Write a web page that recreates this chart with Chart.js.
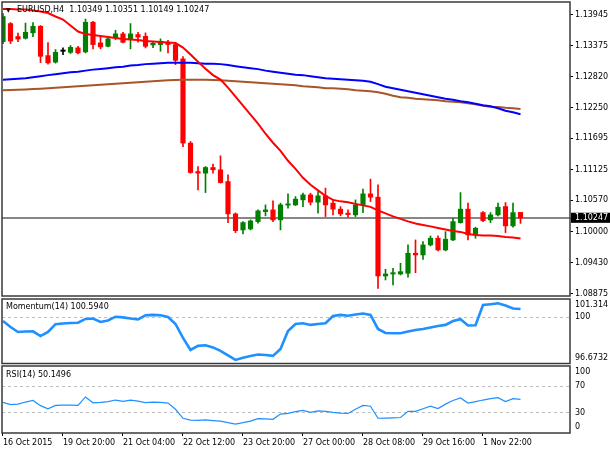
<!DOCTYPE html>
<html>
<head>
<meta charset="utf-8">
<script src="https://cdn.jsdelivr.net/npm/chart.js@4.4.1/dist/chart.umd.min.js"></script>
<style>
html,body{margin:0;padding:0;background:#fff;}
body{width:610px;height:450px;position:relative;overflow:hidden;}
.pane{position:absolute;left:0;width:610px;}
.lbl{position:absolute;font-family:'DejaVu Sans',sans-serif;font-size:8px;line-height:10px;color:#000;white-space:pre;z-index:5;}
</style>
</head>
<body>
<div class="pane" style="top:0;height:297px"><canvas id="cMain"></canvas></div>
<div class="pane" style="top:297px;height:68px"><canvas id="cMom"></canvas></div>
<div class="pane" style="top:364px;height:86px"><canvas id="cRsi"></canvas></div>
<div class="lbl" id="tri" style="left:6px;top:5px;font-size:6px;">▼</div>
<div class="lbl" id="tMain" style="left:17px;top:5px;"></div>
<div class="lbl" id="tMom" style="left:6px;top:301.5px;"></div>
<div class="lbl" id="tRsi" style="left:6px;top:370px;"></div>
<script>
// ---------------- data ----------------
const symbol = 'EURUSD,H4';
const open = [1.13453,1.13781,1.13545,1.13514,1.13612,1.13732,1.13199,1.13080,1.13277,1.13259,
1.13339,1.13266,1.13805,1.13430,1.13368,1.13521,1.13594,1.13490,1.13581,1.13550,
1.13393,1.13399,1.13441,1.13399,1.13139,1.11609,1.11092,1.11063,1.11165,1.11123,
1.10910,1.10322,1.10031,1.10049,1.10182,1.10364,1.10395,1.10213,1.10481,1.10486,
1.10577,1.10668,1.10535,1.10650,1.10517,1.10408,1.10335,1.10304,1.10486,1.10686,
1.10626,1.09194,1.09230,1.09230,1.09243,1.09607,1.09576,1.09758,1.09880,1.09667,
1.09849,1.10164,1.10408,1.09940,1.10346,1.10213,1.10304,1.10455,1.10104,1.10349];
const high = [1.13963,1.13799,1.13608,1.13790,1.13799,1.13745,1.13435,1.13308,1.13339,1.13381,
1.13368,1.13863,1.13823,1.13539,1.13539,1.13659,1.13623,1.13781,1.13623,1.13612,
1.13459,1.13503,1.13477,1.13417,1.13180,1.11638,1.11183,1.11183,1.11227,1.11378,
1.11032,1.10340,1.10182,1.10213,1.10395,1.10486,1.10559,1.10517,1.10686,1.10637,
1.10699,1.10699,1.10728,1.10790,1.10577,1.10455,1.10395,1.10577,1.10772,1.10954,
1.10850,1.09316,1.09334,1.09425,1.09758,1.09849,1.09818,1.09922,1.09922,1.10000,
1.10244,1.10710,1.10517,1.10080,1.10364,1.10346,1.10517,1.10528,1.10517,1.10351];
const low = [1.13417,1.13417,1.13453,1.13499,1.13545,1.13071,1.13044,1.13062,1.13217,1.13235,
1.13230,1.13248,1.13321,1.13321,1.13357,1.13490,1.13430,1.13321,1.13441,1.13339,
1.13344,1.13277,1.13248,1.13035,1.11542,1.11060,1.10759,1.10710,1.11063,1.10881,
1.10164,1.09982,1.09958,1.10031,1.10153,1.10286,1.10182,1.10031,1.10426,1.10473,
1.10455,1.10486,1.10335,1.10273,1.10304,1.10286,1.10262,1.10273,1.10346,1.10546,
1.08970,1.09121,1.09030,1.09212,1.09170,1.09254,1.09497,1.09740,1.09649,1.09649,
1.09836,1.10153,1.09849,1.09880,1.10182,1.10164,1.10286,1.09982,1.10080,1.10149];
const close = [1.13909,1.13463,1.13499,1.13623,1.13732,1.13186,1.13066,1.13259,1.13277,1.13350,
1.13248,1.13805,1.13399,1.13357,1.13503,1.13594,1.13441,1.13594,1.13535,1.13368,
1.13423,1.13459,1.13399,1.13113,1.11609,1.11074,1.11063,1.11165,1.11123,1.10892,
1.10322,1.10018,1.10164,1.10195,1.10377,1.10395,1.10213,1.10486,1.10504,1.10590,
1.10668,1.10535,1.10650,1.10486,1.10408,1.10322,1.10310,1.10486,1.10686,1.10626,
1.09194,1.09230,1.09254,1.09272,1.09607,1.09576,1.09758,1.09880,1.09667,1.09862,
1.10182,1.10408,1.09940,1.10062,1.10200,1.10304,1.10444,1.10104,1.10346,1.10247];
const maRed = [1.14045,1.14045,1.14036,1.14036,1.14018,1.14000,1.13972,1.13909,1.13854,1.13745,
1.13636,1.13590,1.13572,1.13554,1.13535,1.13517,1.13499,1.13490,1.13481,1.13463,
1.13453,1.13444,1.13435,1.13426,1.13344,1.13217,1.13089,1.12962,1.12844,1.12762,
1.12616,1.12452,1.12288,1.12125,1.11961,1.11779,1.11615,1.11469,1.11287,1.11141,
1.10978,1.10850,1.10750,1.10650,1.10577,1.10550,1.10532,1.10504,1.10477,1.10450,
1.10386,1.10331,1.10276,1.10231,1.10186,1.10149,1.10122,1.10095,1.10067,1.10040,
1.10013,1.09995,1.09958,1.09940,1.09931,1.09931,1.09922,1.09904,1.09894,1.09876];
const maBlue = [1.12762,1.12771,1.12780,1.12789,1.12807,1.12825,1.12844,1.12862,1.12880,1.12898,
1.12907,1.12926,1.12944,1.12956,1.12971,1.12989,1.12998,1.13017,1.13026,1.13044,
1.13053,1.13062,1.13071,1.13071,1.13071,1.13071,1.13062,1.13053,1.13053,1.13044,
1.13026,1.13007,1.12989,1.12971,1.12953,1.12926,1.12907,1.12889,1.12871,1.12853,
1.12844,1.12825,1.12807,1.12789,1.12780,1.12771,1.12762,1.12753,1.12743,1.12725,
1.12680,1.12634,1.12607,1.12580,1.12552,1.12525,1.12498,1.12470,1.12443,1.12416,
1.12398,1.12370,1.12352,1.12325,1.12297,1.12279,1.12243,1.12197,1.12170,1.12134];
const maBrown = [1.12571,1.12574,1.12580,1.12585,1.12592,1.12598,1.12607,1.12616,1.12625,1.12634,
1.12643,1.12652,1.12662,1.12671,1.12680,1.12689,1.12698,1.12707,1.12716,1.12725,
1.12734,1.12743,1.12753,1.12756,1.12762,1.12762,1.12762,1.12762,1.12756,1.12753,
1.12743,1.12734,1.12725,1.12716,1.12707,1.12698,1.12689,1.12680,1.12671,1.12662,
1.12643,1.12634,1.12625,1.12607,1.12607,1.12598,1.12589,1.12571,1.12561,1.12552,
1.12534,1.12507,1.12470,1.12443,1.12434,1.12416,1.12407,1.12398,1.12389,1.12370,
1.12361,1.12352,1.12334,1.12316,1.12288,1.12270,1.12265,1.12252,1.12243,1.12228];
const momentum = [99.73,99.30,98.94,98.98,98.99,98.65,98.94,99.50,99.55,99.59,
99.61,99.88,99.91,99.66,99.77,100.04,99.99,99.91,99.84,100.14,
100.17,100.14,100.02,99.52,98.51,97.65,97.94,97.99,97.83,97.58,
97.25,96.93,97.09,97.22,97.32,97.29,97.22,97.72,99.01,99.52,
99.57,99.45,99.52,99.57,100.09,100.17,100.11,100.20,100.27,100.17,
99.16,98.87,98.85,98.85,98.98,99.09,99.16,99.27,99.37,99.45,
99.73,99.86,99.41,99.42,100.88,100.94,101.01,100.85,100.63,100.594];
const rsi = [45.7,42.3,43.1,46.2,48.5,40.8,36.2,41.1,41.5,41.5,
41.1,53.8,45.1,45.7,46.9,49.2,47.2,49.2,47.7,45.4,
46.2,45.7,44.6,35.4,22.0,19.2,18.9,19.5,18.5,17.7,
15.4,13.4,15.4,17.7,21.5,21.1,20.5,28.2,29.2,31.8,
33.8,30.8,33.1,32.3,30.8,29.7,29.2,35.4,41.1,40.0,
22.0,22.3,22.6,23.1,32.3,32.3,36.2,40.0,36.5,43.1,
48.5,52.3,44.6,46.9,49.2,51.2,52.8,46.9,51.2,50.1496];
const xLabels = ['16 Oct 2015','19 Oct 20:00','21 Oct 04:00','22 Oct 12:00','23 Oct 20:00','27 Oct 00:00','28 Oct 08:00','29 Oct 16:00','1 Nov 22:00'];
const xLabelBars = [0,8,16,24,32,40,48,56,64];
const priceTicks = [1.13945,1.13375,1.12820,1.12250,1.11695,1.11125,1.10570,1.10247,1.10000,1.09430,1.08875];
const momTicks = [96.6732,100,101.314];
const momTickLabels = ['96.6732','100','101.314'];
const rsiTicks = [0,30,70,100];
const rsiLevels = [30,70];
const momLevel = 100;

// ---------------- view settings ----------------
const FONT = "'DejaVu Sans', sans-serif";
const RED = '#ff0000', GREEN = '#008000';
const XMIN = -0.133, XMAX = 75.6;
const PRICE_MIN = 1.08830, PRICE_MAX = 1.14173;
const MOM_MIN = 96.6732, MOM_MAX = 101.314;
const AXIS_W = 40;

Chart.defaults.font.family = FONT;
Chart.defaults.font.size = 8;
Chart.defaults.color = '#000';
Chart.defaults.animation = false;

const N = open.length;
const idx = Array.from({length: N}, (_, i) => i);
const bid = close[N - 1];
const candleColor = idx.map(i => close[i] > open[i] ? GREEN : (close[i] < open[i] ? RED : '#000'));
const pts = arr => idx.map(i => ({x: i, y: arr[i]}));

document.getElementById('tMain').textContent =
  symbol + '  ' + [open[N-1], high[N-1], low[N-1], close[N-1]].map(v => v.toFixed(5)).join(' ');
document.getElementById('tMom').textContent = 'Momentum(14) ' + momentum[N-1].toFixed(4);
document.getElementById('tRsi').textContent = 'RSI(14) ' + rsi[N-1].toFixed(4);

const framePlugin = {
  id: 'frame',
  afterDraw(c) {
    const a = c.chartArea, ctx = c.ctx;
    ctx.save();
    ctx.strokeStyle = '#3a3a3a';
    ctx.lineWidth = 1.5;
    ctx.strokeRect(a.left, a.top, a.right - a.left, a.bottom - a.top);
    ctx.restore();
  }
};

// fixed-size axes with no automatic label padding
const fitY = s => { s.width = AXIS_W; s.paddingTop = 0; s.paddingBottom = 0; s.paddingLeft = 0; s.paddingRight = 0; };
const fitX = s => { s.height = 17; s.paddingLeft = 0; s.paddingRight = 0; s.paddingTop = 0; s.paddingBottom = 0; };

function hiddenX() {
  return { type: 'linear', min: XMIN, max: XMAX, bounds: 'data', offset: false, display: false, grid: { offset: false } };
}
function edgeLabel(text, v, lo, hi) {
  if (v === hi) return ['', text];
  if (v === lo) return [text, ''];
  return text;
}
const commonOpts = {
  responsive: true,
  maintainAspectRatio: false,
  animation: false,
  events: [],
  plugins: { legend: { display: false }, tooltip: { enabled: false }, title: { display: false } }
};

// ---------------- main price pane ----------------
new Chart(document.getElementById('cMain'), {
  type: 'line',
  data: {
    datasets: [
      { type: 'line', data: pts(maRed), borderColor: RED, borderWidth: 2, pointRadius: 0, tension: 0, order: 0 },
      { type: 'line', data: pts(maBlue), borderColor: '#0000ff', borderWidth: 2, pointRadius: 0, tension: 0, order: 0 },
      { type: 'line', data: pts(maBrown), borderColor: '#a8552a', borderWidth: 2, pointRadius: 0, tension: 0, order: 0 },
      { type: 'bar', data: idx.map(i => ({x: i, y: [open[i], close[i]]})), backgroundColor: candleColor,
        barThickness: 4.5, minBarLength: 1.3, grouped: false, borderWidth: 0, order: 1 },
      { type: 'bar', data: idx.map(i => ({x: i, y: [low[i], high[i]]})), backgroundColor: candleColor,
        barThickness: 1, grouped: false, borderWidth: 0, order: 2 },
      { type: 'line', data: [{x: XMIN, y: bid}, {x: XMAX, y: bid}], borderColor: '#5f5f5f', borderWidth: 1.6,
        pointRadius: 0, order: 3 }
    ]
  },
  options: Object.assign({}, commonOpts, {
    layout: { autoPadding: false, padding: { left: 2, right: 0, top: 2, bottom: 1 } },
    scales: {
      x: hiddenX(),
      y: {
        type: 'linear', position: 'right', min: PRICE_MIN, max: PRICE_MAX, bounds: 'data',
        afterFit: fitY,
        afterBuildTicks: s => { s.ticks = priceTicks.map(v => ({value: v})); },
        ticks: {
          autoSkip: false, padding: 2, font: { size: 8 },
          callback: v => v.toFixed(5),
          color: c => (c.tick && c.tick.value === bid) ? '#fff' : '#000',
          showLabelBackdrop: true,
          backdropColor: c => (c.tick && c.tick.value === bid) ? '#000' : 'rgba(0,0,0,0)',
          backdropPadding: { left: 4, right: 4, top: 0.5, bottom: 0 }
        },
        grid: { drawOnChartArea: false, drawTicks: true, tickLength: 3, color: '#000' },
        border: { display: false }
      }
    }
  }),
  plugins: [framePlugin]
});

// ---------------- momentum pane ----------------
new Chart(document.getElementById('cMom'), {
  type: 'line',
  data: { datasets: [
    { data: pts(momentum), borderColor: '#1e90ff', borderWidth: 2.6, pointRadius: 0, tension: 0 }
  ] },
  options: Object.assign({}, commonOpts, {
    layout: { autoPadding: false, padding: { left: 2, right: 0, top: 2, bottom: 1.5 } },
    scales: {
      x: hiddenX(),
      y: {
        type: 'linear', position: 'right', min: MOM_MIN, max: MOM_MAX, bounds: 'data',
        afterFit: fitY,
        afterBuildTicks: s => { s.ticks = momTicks.map(v => ({value: v})); },
        ticks: {
          autoSkip: false, padding: 5, font: { size: 8, lineHeight: 1.4 },
          callback: (v, i) => edgeLabel(momTickLabels[i], v, MOM_MIN, MOM_MAX)
        },
        grid: {
          drawTicks: false, drawOnChartArea: true, lineWidth: 1,
          color: c => (c.tick && c.tick.value === momLevel) ? '#bdbdbd' : 'rgba(0,0,0,0)'
        },
        border: { display: false, dash: [3, 3] }
      }
    }
  }),
  plugins: [framePlugin]
});

// ---------------- RSI pane ----------------
new Chart(document.getElementById('cRsi'), {
  type: 'line',
  data: { datasets: [
    { data: pts(rsi), borderColor: '#1e90ff', borderWidth: 1.2, pointRadius: 0, tension: 0 }
  ] },
  options: Object.assign({}, commonOpts, {
    layout: { autoPadding: false, padding: { left: 2, right: 0, top: 2, bottom: 0 } },
    scales: {
      x: {
        type: 'linear', min: XMIN, max: XMAX, bounds: 'data', offset: false,
        afterFit: fitX,
        afterBuildTicks: s => { s.ticks = xLabelBars.map(v => ({value: v})); },
        ticks: { autoSkip: false, maxRotation: 0, minRotation: 0, align: 'start', padding: 2,
                 font: { size: 8 }, callback: (v, i) => xLabels[i] },
        grid: { offset: false, drawOnChartArea: false, drawTicks: true, tickLength: 3, color: '#000' },
        border: { display: false }
      },
      y: {
        type: 'linear', position: 'right', min: 0, max: 100, bounds: 'data',
        afterFit: fitY,
        afterBuildTicks: s => { s.ticks = rsiTicks.map(v => ({value: v})); },
        ticks: {
          autoSkip: false, padding: 5, font: { size: 8, lineHeight: 1.4 },
          callback: v => edgeLabel(String(v), v, 0, 100)
        },
        grid: {
          drawTicks: false, drawOnChartArea: true, lineWidth: 1,
          color: c => (c.tick && rsiLevels.includes(c.tick.value)) ? '#bdbdbd' : 'rgba(0,0,0,0)'
        },
        border: { display: false, dash: [3, 3] }
      }
    }
  }),
  plugins: [framePlugin]
});
</script>
</body>
</html>
